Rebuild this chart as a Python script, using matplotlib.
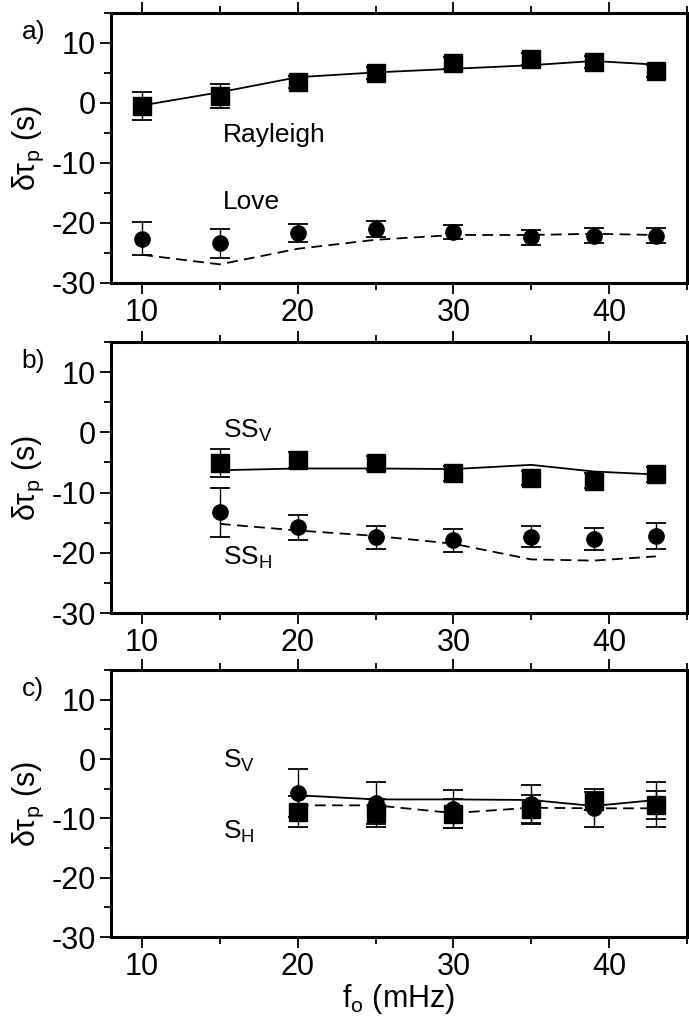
import matplotlib
matplotlib.use('Agg')
import matplotlib.pyplot as plt
from matplotlib.ticker import MultipleLocator

plt.rcParams['font.family'] = ['Liberation Sans', 'DejaVu Sans']
plt.rcParams['axes.unicode_minus'] = False
plt.rcParams['mathtext.default'] = 'regular'

# panel a: surface waves
freq_a = [10, 15, 20, 25, 30, 35, 39, 43]
rayleigh_obs = [-0.5, 1.1, 3.5, 5.0, 6.6, 7.3, 6.8, 5.3]
rayleigh_err = [2.4, 2.0, 1.0, 1.0, 1.0, 1.0, 1.0, 1.0]
rayleigh_model = [-0.4, 1.8, 4.3, 5.1, 5.7, 6.3, 7.0, 6.4]
love_obs = [-22.6, -23.4, -21.7, -21.0, -21.5, -22.4, -22.1, -22.1]
love_err = [2.7, 2.4, 1.5, 1.3, 1.2, 1.2, 1.2, 1.3]
love_model = [-25.3, -26.9, -24.3, -22.8, -22.0, -22.0, -21.8, -22.0]

# panel b: SS
freq_b = [15, 20, 25, 30, 35, 39, 43]
ssv_obs = [-5.1, -4.6, -5.1, -6.8, -7.6, -8.0, -7.0]
ssv_err = [2.35, 1.3, 1.2, 1.2, 1.2, 1.2, 1.2]
ssv_model = [-6.3, -6.0, -6.0, -6.1, -5.4, -6.5, -7.0]
ssh_obs = [-13.3, -15.8, -17.4, -17.9, -17.3, -17.7, -17.2]
ssh_err = [4.0, 2.1, 1.9, 1.9, 1.8, 1.8, 2.1]
ssh_model = [-15.2, -16.3, -17.2, -18.5, -21.1, -21.3, -20.6]

# panel c: S
freq_c = [20, 25, 30, 35, 39, 43]
sv_obs = [-5.7, -7.4, -8.4, -7.6, -8.2, -7.6]
sv_err = [4.1, 3.6, 3.2, 3.2, 3.2, 3.8]
sv_model = [-6.1, -6.8, -6.8, -6.9, -7.9, -6.9]
sh_obs = [-8.9, -9.1, -9.2, -8.5, -7.1, -7.7]
sh_err = [2.6, 2.4, 2.5, 2.4, 1.5, 2.4]
sh_model = [-7.8, -7.8, -9.1, -8.2, -8.3, -8.3]

dash = (0, (6, 3.5))

fig = plt.figure(figsize=(6.89, 10.32), dpi=100)
ax_a = fig.add_axes([0.161, 0.7258, 0.836, 0.2616])
ax_b = fig.add_axes([0.161, 0.406, 0.836, 0.2626])
ax_c = fig.add_axes([0.161, 0.092, 0.836, 0.2587])


def draw(ax, x, solid_obs, solid_err, solid_mod, solid_mk,
         dash_obs, dash_err, dash_mod, dash_mk):
    ax.plot(x, solid_mod, '-', color='k', lw=1.3, zorder=2)
    ax.plot(x, dash_mod, linestyle=dash, color='k', lw=1.3, zorder=2)
    for obs, err, mk in [(dash_obs, dash_err, dash_mk),
                         (solid_obs, solid_err, solid_mk)]:
        size = 12.5 if mk == 's' else 11
        ax.errorbar(x, obs, yerr=err, fmt=mk, ms=size, color='k',
                    ecolor='k', elinewidth=1.0, capsize=7, capthick=1.3,
                    zorder=3)


draw(ax_a, freq_a, rayleigh_obs, rayleigh_err, rayleigh_model, 's',
     love_obs, love_err, love_model, 'o')
draw(ax_b, freq_b, ssv_obs, ssv_err, ssv_model, 's',
     ssh_obs, ssh_err, ssh_model, 'o')
draw(ax_c, freq_c, sv_obs, sv_err, sv_model, 'o',
     sh_obs, sh_err, sh_model, 's')

fs_txt = 19
ax_a.text(15.2, -5.4, 'Rayleigh', fontsize=fs_txt, va='center')
ax_a.text(15.2, -16.5, 'Love', fontsize=fs_txt, va='center')
ax_b.text(15.2, 0.3, 'SS$_V$', fontsize=fs_txt, va='center')
ax_b.text(15.2, -20.8, 'SS$_H$', fontsize=fs_txt, va='center')
ax_c.text(15.2, -0.3, 'S$_V$', fontsize=fs_txt, va='center')
ax_c.text(15.2, -12.3, 'S$_H$', fontsize=fs_txt, va='center')

for ax, lab in [(ax_a, 'a)'), (ax_b, 'b)'), (ax_c, 'c)')]:
    ax.set_xlim(8, 45)
    ax.set_ylim(-30, 15)
    ax.xaxis.set_major_locator(MultipleLocator(10))
    ax.xaxis.set_minor_locator(MultipleLocator(5))
    ax.yaxis.set_major_locator(MultipleLocator(10))
    ax.yaxis.set_minor_locator(MultipleLocator(5))
    ax.set_yticks([-30, -20, -10, 0, 10])
    ax.tick_params(which='both', direction='out', top=True, right=False,
                   labelsize=22, width=1.3, pad=3)
    ax.tick_params(which='major', length=8)
    ax.tick_params(which='minor', length=5)
    for s in ax.spines.values():
        s.set_linewidth(2.2)
    ax.set_ylabel(r'$\delta\tau_p$ (s)', fontsize=22, labelpad=4)
    ax.text(-0.155, 0.93, lab, transform=ax.transAxes, fontsize=19,
            ha='left', va='center')

ax_c.set_xlabel('f$_o$ (mHz)', fontsize=22, labelpad=0)

fig.savefig('out.png', dpi=100)
